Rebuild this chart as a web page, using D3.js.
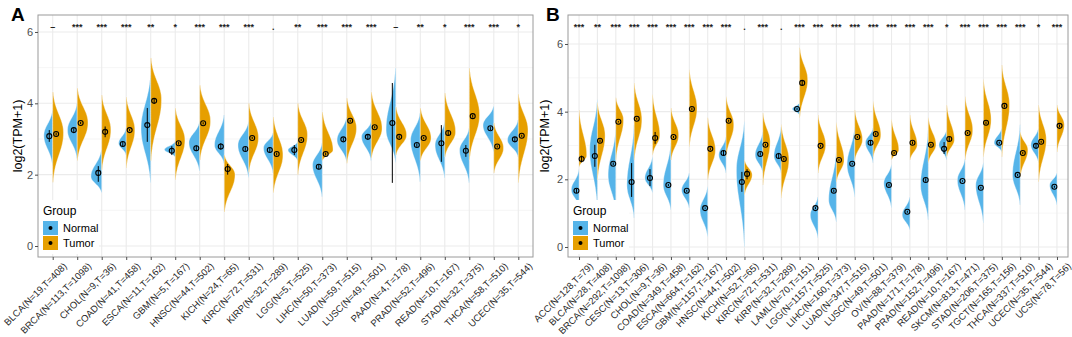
<!DOCTYPE html>
<html><head><meta charset="utf-8">
<script src="https://cdn.jsdelivr.net/npm/d3@7"></script>
<style>body{margin:0;background:#fff;}svg{display:block;font-family:"Liberation Sans",Arial,sans-serif;}</style>
</head><body><svg id="c" width="1072" height="337"></svg>
<script>
// ---------------- DATA ----------------
const yTicks = [0, 2, 4, 6];
const yMinor = [1, 3, 5];
const groups = ["Normal", "Tumor"];

const catsA = ["BLCA(N=19,T=408)","BRCA(N=113,T=1098)","CHOL(N=9,T=36)","COAD(N=41,T=458)","ESCA(N=11,T=162)","GBM(N=5,T=167)","HNSC(N=44,T=502)","KICH(N=24,T=65)","KIRC(N=72,T=531)","KIRP(N=32,T=289)","LGG(N=5,T=525)","LIHC(N=50,T=373)","LUAD(N=59,T=515)","LUSC(N=49,T=501)","PAAD(N=4,T=178)","PRAD(N=52,T=496)","READ(N=10,T=167)","STAD(N=32,T=375)","THCA(N=58,T=510)","UCEC(N=35,T=544)"];
const sigA = ["–","***","***","***","**","*","***","***","***",".","**","***","***","***","–","**","*","***","***","*"];
// violin halves: [min, peak, max, relative width]
const violinNormalA = [[2.25,3.1,3.81,0.82],[2.45,3.25,4.0,0.9],[1.5,1.95,2.7,1.0],[2.55,2.88,3.3,0.7],[1.77,3.3,4.8,0.9],[2.5,2.7,2.92,1.0],[2.1,2.9,3.48,1.0],[2.32,2.83,3.67,0.9],[1.93,2.83,3.48,1.0],[2.05,2.75,3.17,0.9],[2.4,2.69,2.92,0.9],[1.38,2.27,2.88,0.9],[2.36,2.97,3.62,0.9],[2.4,3.06,3.48,0.9],[2.35,3.25,4.99,0.9],[1.8,2.97,3.73,0.9],[1.91,2.83,3.48,0.9],[1.77,2.69,3.3,0.9],[2.64,3.39,3.92,1.0],[2.5,2.97,3.53,1.0]];
const violinTumorA = [[1.79,3.17,4.32,1.0],[2.4,3.45,4.43,1.0],[2.13,3.25,4.23,0.85],[2.19,3.25,4.18,0.8],[2.4,4.1,5.27,1.0],[1.85,2.97,3.87,0.9],[2.41,3.5,4.51,1.0],[0.95,2.0,2.55,1.0],[2.07,3.03,4.0,0.9],[1.49,2.55,3.62,0.9],[2.0,3.11,4.0,0.9],[2.4,2.69,3.76,1.0],[2.32,3.3,4.15,0.9],[2.47,3.3,4.32,1.0],[2.55,3.11,3.9,1.0],[2.4,3.03,3.87,1.0],[2.5,3.2,4.29,1.0],[2.41,3.67,4.99,0.95],[2.05,2.75,3.45,0.9],[1.77,3.25,4.26,0.9]];
// summary points: [centre, low, high]
const pointNormalA = [[3.08,2.92,3.25],[3.25,3.2,3.3],[2.05,1.8,2.24],[2.86,2.8,2.92],[3.39,2.92,3.87],[2.67,2.55,2.8],[2.74,2.66,2.82],[2.79,2.7,2.88],[2.72,2.67,2.77],[2.69,2.62,2.76],[2.69,2.55,2.83],[2.22,2.15,2.29],[2.99,2.94,3.04],[3.06,3.0,3.12],[3.45,1.77,4.57],[2.83,2.78,2.88],[2.88,2.36,3.39],[2.67,2.5,2.83],[3.3,3.25,3.35],[2.99,2.92,3.06]];
const pointTumorA = [[3.14,3.1,3.18],[3.45,3.42,3.48],[3.2,3.05,3.35],[3.25,3.22,3.28],[4.07,4.0,4.14],[2.88,2.84,2.92],[3.44,3.41,3.47],[2.16,2.0,2.3],[3.03,3.0,3.06],[2.58,2.54,2.62],[2.97,2.94,3.0],[2.58,2.54,2.62],[3.51,3.48,3.54],[3.33,3.3,3.36],[3.06,3.02,3.1],[3.03,3.0,3.06],[3.17,3.1,3.24],[3.64,3.6,3.68],[2.79,2.76,2.82],[3.09,3.06,3.12]];

const catsB = ["ACC(N=128,T=79)","BLCA(N=28,T=408)","BRCA(N=292,T=1098)","CESC(N=13,T=306)","CHOL(N=9,T=36)","COAD(N=349,T=458)","ESCA(N=664,T=162)","GBM(N=1157,T=167)","HNSC(N=44,T=502)","KICH(N=52,T=65)","KIRC(N=72,T=531)","KIRP(N=32,T=289)","LAML(N=70,T=151)","LGG(N=1157,T=525)","LIHC(N=160,T=373)","LUAD(N=347,T=515)","LUSC(N=49,T=501)","OV(N=88,T=379)","PAAD(N=171,T=178)","PRAD(N=152,T=496)","READ(N=10,T=167)","SKCM(N=813,T=471)","STAD(N=206,T=375)","TGCT(N=165,T=156)","THCA(N=337,T=510)","UCEC(N=35,T=544)","UCS(N=78,T=56)"];
const sigB = ["***","**","***","***","***","***","***","***","***",".","***",".","***","***","***","***","***","***","***","***","*","***","***","***","***","*","***"];
const violinNormalB = [[1.18,1.69,2.28,0.95],[1.2,2.87,4.35,0.95],[1.04,2.13,3.46,0.95],[0.86,1.83,3.6,0.9],[1.6,2.04,2.66,0.95],[1.09,1.83,3.07,0.95],[1.15,1.69,2.19,0.95],[0.3,1.09,1.78,0.95],[2.19,2.72,3.25,0.9],[0.0,2.28,3.7,1.0],[2.19,2.72,3.4,0.95],[2.19,2.69,3.55,0.9],[3.9,4.08,4.26,0.9],[0.27,0.95,1.48,0.95],[0.74,1.39,2.81,0.95],[1.48,2.43,3.55,0.95],[2.49,3.08,3.52,0.95],[1.15,1.89,2.43,0.95],[0.5,0.95,1.48,0.95],[0.8,1.83,3.46,0.95],[2.57,3.02,3.46,0.95],[1.09,1.98,2.6,0.95],[0.71,1.83,2.49,0.95],[2.81,3.08,3.52,0.95],[1.24,2.13,3.61,0.95],[2.49,3.02,3.52,0.95],[1.24,1.83,2.19,0.9]];
const violinTumorB = [[2.37,2.7,4.05,0.95],[1.98,3.3,4.26,0.95],[2.57,3.76,4.41,0.95],[2.57,3.76,4.85,0.95],[2.72,3.3,4.5,0.9],[2.57,3.3,4.11,0.95],[2.96,4.1,5.24,0.95],[1.98,2.87,3.82,0.95],[2.66,3.61,4.44,0.95],[1.54,2.13,2.57,0.95],[1.83,3.1,3.96,0.9],[1.45,2.57,3.61,0.95],[3.82,4.94,5.89,1.0],[2.19,3.02,3.9,0.95],[1.92,2.57,3.67,0.95],[2.57,3.17,4.05,0.95],[2.66,3.31,4.29,0.95],[2.57,2.87,3.76,0.9],[2.57,3.02,3.9,0.9],[2.5,3.02,3.82,0.95],[2.66,3.17,4.2,0.95],[2.57,3.46,4.44,0.95],[2.66,3.76,4.94,0.95],[2.66,4.2,5.38,0.95],[2.07,2.87,3.4,0.95],[1.92,3.17,4.2,0.95],[2.81,3.61,4.2,0.9]];
const pointNormalB = [[1.66,1.6,1.72],[2.69,2.37,3.02],[2.46,2.42,2.5],[1.92,1.48,2.48],[2.04,1.8,2.3],[1.83,1.8,1.86],[1.66,1.63,1.69],[1.15,1.13,1.17],[2.78,2.7,2.86],[1.92,1.63,2.22],[2.75,2.7,2.8],[2.69,2.6,2.78],[4.08,4.05,4.11],[1.15,1.12,1.18],[1.66,1.62,1.7],[2.46,2.43,2.49],[3.08,3.0,3.16],[1.83,1.79,1.87],[1.04,1.01,1.07],[1.98,1.93,2.03],[2.9,2.75,3.1],[1.95,1.93,1.97],[1.75,1.72,1.78],[3.08,3.05,3.11],[2.13,2.1,2.16],[2.99,2.93,3.05],[1.78,1.75,1.81]];
const pointTumorB = [[2.6,2.5,2.7],[3.14,3.1,3.18],[3.7,3.68,3.72],[3.79,3.76,3.82],[3.22,3.05,3.4],[3.25,3.22,3.28],[4.08,4.04,4.12],[2.9,2.86,2.94],[3.73,3.7,3.76],[2.16,2.0,2.3],[3.02,2.99,3.05],[2.6,2.56,2.64],[4.85,4.78,4.92],[2.99,2.96,3.02],[2.57,2.54,2.6],[3.25,3.22,3.28],[3.34,3.3,3.38],[2.78,2.75,2.81],[3.08,3.04,3.12],[3.02,2.99,3.05],[3.19,3.13,3.25],[3.37,3.34,3.4],[3.67,3.63,3.71],[4.17,4.13,4.21],[2.78,2.75,2.81],[3.11,3.08,3.14],[3.58,3.54,3.62]];

// ---------------- DRAW ----------------
const COLORS = {Normal: "#56B4E9", Tumor: "#E69F00"};
const svg = d3.select("#c");

function panel(o) {
  const g = svg.append("g");
  const x = d3.scalePoint().domain(o.cats).range([o.L, o.R]).padding(0.6);
  const y = d3.scaleLinear().domain(o.yDom).range([o.B, o.T]);
  const step = x.step();
  const hwMax = step * 0.44;

  // grid
  g.selectAll(".gmin").data(yMinor).join("line")
    .attr("x1", o.L).attr("x2", o.R).attr("y1", d => y(d)).attr("y2", d => y(d))
    .attr("stroke", "#f0f0f0").attr("stroke-width", 0.6);
  g.selectAll(".gmaj").data(yTicks).join("line")
    .attr("x1", o.L).attr("x2", o.R).attr("y1", d => y(d)).attr("y2", d => y(d))
    .attr("stroke", "#ebebeb").attr("stroke-width", 1.1);
  g.selectAll(".gx").data(o.cats).join("line")
    .attr("x1", d => x(d)).attr("x2", d => x(d)).attr("y1", o.T).attr("y2", o.B)
    .attr("stroke", "#ebebeb").attr("stroke-width", 1.1);

  function half(v, cx, dir) {
    const [lo, pk, hi, w] = v;
    const n = 60, pts = [];
    for (let i = 0; i <= n; i++) {
      const t = lo + (hi - lo) * i / n;
      const s = t < pk ? (pk - lo) / 2.3 : (hi - pk) / 2.3;
      pts.push([t, Math.exp(-0.5 * Math.pow(Math.abs(t - pk) / s, 2.2))]);
    }
    return d3.area().x0(cx).x1(p => cx + dir * w * hwMax * p[1]).y(p => y(p[0])).curve(d3.curveBasis)(pts);
  }

  o.cats.forEach((c, i) => {
    const cx = x(c);
    g.append("path").attr("d", half(o.vN[i], cx, -1)).attr("fill", COLORS.Normal)
      .attr("stroke", "#fff").attr("stroke-width", 0.4);
    g.append("path").attr("d", half(o.vT[i], cx, 1)).attr("fill", COLORS.Tumor)
      .attr("stroke", "#fff").attr("stroke-width", 0.4);
  });
  const off = step * 0.14;
  [[o.pN, -1], [o.pT, 1]].forEach(([pts, dir]) => {
    o.cats.forEach((c, i) => {
      const cx = x(c) + dir * off, p = pts[i];
      g.append("line").attr("x1", cx).attr("x2", cx).attr("y1", y(p[1])).attr("y2", y(p[2]))
        .attr("stroke", "#000").attr("stroke-width", 1);
      g.append("circle").attr("cx", cx).attr("cy", y(p[0])).attr("r", 2.5)
        .attr("fill", "none").attr("stroke", "#000").attr("stroke-width", 1.1);
    });
  });

  // significance labels
  g.selectAll(".sig").data(o.cats).join("text")
    .attr("x", d => x(d)).attr("y", o.T + 15)
    .attr("text-anchor", "middle").attr("font-size", 9).attr("font-weight", "bold").attr("fill", "#222")
    .text((d, i) => o.sig[i]);

  // border
  g.append("rect").attr("x", o.L).attr("y", o.T).attr("width", o.R - o.L).attr("height", o.B - o.T)
    .attr("fill", "none").attr("stroke", "#9a9a9a").attr("stroke-width", 1);

  // y axis
  const ya = g.append("g").attr("transform", `translate(${o.L},0)`)
    .call(d3.axisLeft(y).tickValues(yTicks).tickSize(3).tickPadding(2).tickFormat(d3.format("d")));
  ya.select(".domain").remove();
  ya.selectAll("line").attr("stroke", "#4d4d4d");
  ya.selectAll("text").attr("font-size", 11).attr("fill", "#4d4d4d").attr("font-family", "Liberation Sans, Arial, sans-serif");

  // x axis
  const xa = g.append("g").attr("transform", `translate(0,${o.B})`)
    .call(d3.axisBottom(x).tickSize(3).tickFormat(""));
  xa.select(".domain").remove();
  xa.selectAll("line").attr("stroke", "#4d4d4d");
  g.selectAll(".xl").data(o.cats).join("text")
    .attr("transform", d => `translate(${x(d) + 10},${o.B + 5}) rotate(-45)`)
    .attr("text-anchor", "end").attr("dy", "0.71em")
    .attr("font-size", 9.5).attr("fill", "#1f1f1f").text(d => d);

  // y title
  g.append("text").attr("transform", `translate(${o.yTitleX},${(o.T + o.B) / 2}) rotate(-90)`)
    .attr("text-anchor", "middle").attr("font-size", 12.5).attr("fill", "#000").text("log2(TPM+1)");

  // panel letter
  g.append("text").attr("x", o.letterX).attr("y", 21).attr("font-size", 19).attr("font-weight", "bold")
    .attr("fill", "#000").text(o.letter);

  // legend
  const lg = g.append("g").attr("transform", `translate(${o.L + 5},${o.B - 57})`);
  lg.append("rect").attr("x", -4).attr("y", 0).attr("width", 60).attr("height", 54).attr("fill", "#fff");
  lg.append("text").attr("x", 0).attr("y", 15).attr("font-size", 12).attr("fill", "#000").text("Group");
  groups.forEach((gr, k) => {
    const yy = 21 + k * 15;
    lg.append("rect").attr("x", 0).attr("y", yy).attr("width", 15).attr("height", 14).attr("fill", COLORS[gr]);
    lg.append("circle").attr("cx", 7.5).attr("cy", yy + 7).attr("r", 2).attr("fill", "#000");
    lg.append("text").attr("x", 20).attr("y", yy + 11).attr("font-size", 11).attr("fill", "#000").text(gr);
  });
}

panel({cats: catsA, sig: sigA, vN: violinNormalA, vT: violinTumorA, pN: pointNormalA, pT: pointTumorA,
  L: 38, R: 533, T: 15, B: 257, yDom: [-0.308, 6.476], yTitleX: 22, letter: "A", letterX: 11});
panel({cats: catsB, sig: sigB, vN: violinNormalB, vT: violinTumorB, pN: pointNormalB, pT: pointTumorB,
  L: 568, R: 1068, T: 15, B: 257, yDom: [-0.296, 6.857], yTitleX: 549, letter: "B", letterX: 546});
</script></body></html>
